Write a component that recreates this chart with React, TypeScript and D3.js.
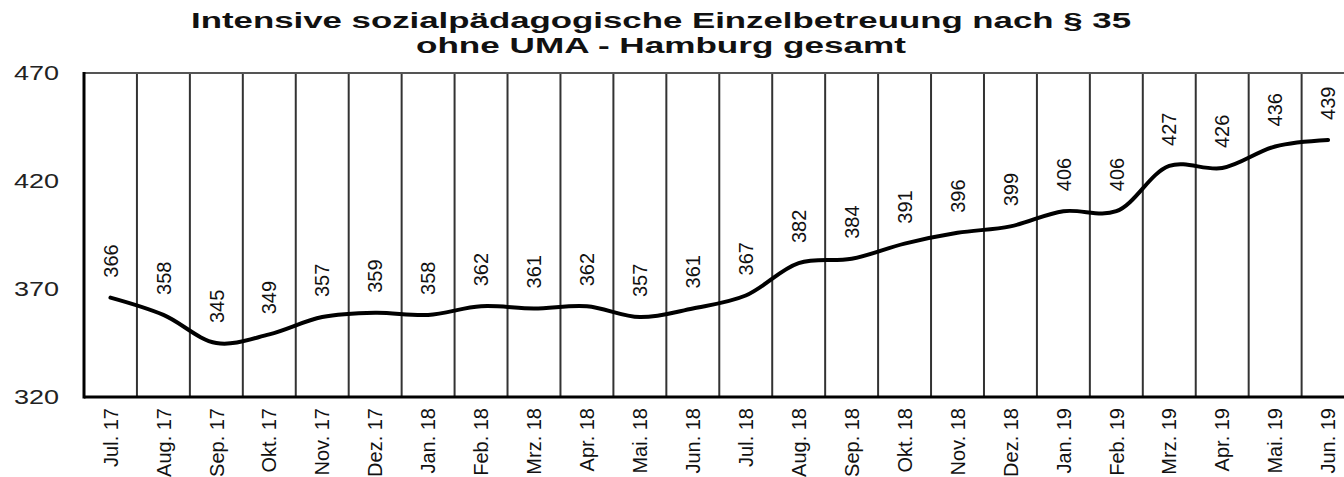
import React, { useEffect, useRef } from 'react';
import * as d3 from 'd3';

const months = [
  'Jul. 17', 'Aug. 17', 'Sep. 17', 'Okt. 17', 'Nov. 17', 'Dez. 17',
  'Jan. 18', 'Feb. 18', 'Mrz. 18', 'Apr. 18', 'Mai. 18', 'Jun. 18',
  'Jul. 18', 'Aug. 18', 'Sep. 18', 'Okt. 18', 'Nov. 18', 'Dez. 18',
  'Jan. 19', 'Feb. 19', 'Mrz. 19', 'Apr. 19', 'Mai. 19', 'Jun. 19',
];
const values = [
  366, 358, 345, 349, 357, 359, 358, 362, 361, 362, 357, 361,
  367, 382, 384, 391, 396, 399, 406, 406, 427, 426, 436, 439,
];
const yTicks = [320, 370, 420, 470];
const titleLines = [
  'Intensive sozialpädagogische Einzelbetreuung nach § 35',
  'ohne UMA - Hamburg gesamt',
];

const FONT = '"Liberation Sans", Arial, sans-serif';

const App = () => {
  const ref = useRef<SVGSVGElement>(null);

  useEffect(() => {
    const svg = d3.select(ref.current);
    svg.selectAll('*').remove();

    const width = 1344;
    const height = 477;
    const margin = { top: 73, left: 84, bottom: 397 };
    const step = 52.94;

    const x = d3.scaleBand()
      .domain(months)
      .range([margin.left, margin.left + months.length * step])
      .paddingInner(0)
      .paddingOuter(0);
    const y = d3.scaleLinear().domain([320, 470]).range([margin.bottom, margin.top]);
    const cx = (m: string) => (x(m) as number) + x.bandwidth() / 2;

    // Title
    const tl = [{ text: titleLines[0], y: 28, len: 940 }, { text: titleLines[1], y: 53, len: 490 }];
    svg.selectAll('.title')
      .data(tl)
      .enter()
      .append('text')
      .attr('x', 661)
      .attr('y', d => d.y)
      .attr('text-anchor', 'middle')
      .attr('font-family', FONT)
      .attr('font-weight', 'bold')
      .attr('font-size', 22)
      .attr('fill', '#111')
      .attr('textLength', d => d.len)
      .attr('lengthAdjust', 'spacingAndGlyphs')
      .text(d => d.text);

    // Vertical gridlines at category boundaries
    const bounds = months.map(m => x(m) as number).slice(1).concat([x.range()[1]]);
    svg.selectAll('.grid')
      .data(bounds)
      .enter()
      .append('line')
      .attr('x1', d => d)
      .attr('x2', d => d)
      .attr('y1', margin.top)
      .attr('y2', margin.bottom)
      .attr('stroke', '#333')
      .attr('stroke-width', 2);

    // Top border
    svg.append('line')
      .attr('x1', margin.left)
      .attr('x2', x.range()[1])
      .attr('y1', margin.top)
      .attr('y2', margin.top)
      .attr('stroke', '#555')
      .attr('stroke-width', 2);

    // Axes
    svg.append('line')
      .attr('x1', margin.left)
      .attr('x2', margin.left)
      .attr('y1', margin.top - 1)
      .attr('y2', margin.bottom + 1.5)
      .attr('stroke', '#000')
      .attr('stroke-width', 3);
    svg.append('line')
      .attr('x1', margin.left)
      .attr('x2', x.range()[1])
      .attr('y1', margin.bottom)
      .attr('y2', margin.bottom)
      .attr('stroke', '#000')
      .attr('stroke-width', 3);

    // Y tick labels
    svg.selectAll('.ytick')
      .data(yTicks)
      .enter()
      .append('text')
      .attr('x', 59)
      .attr('y', d => y(d) + 7)
      .attr('text-anchor', 'end')
      .attr('font-family', FONT)
      .attr('font-size', 20)
      .attr('fill', '#222')
      .attr('textLength', 45)
      .attr('lengthAdjust', 'spacingAndGlyphs')
      .text(d => d);

    // X labels
    svg.selectAll('.xlab')
      .data(months)
      .enter()
      .append('text')
      .attr('transform', d => `translate(${cx(d)},408) rotate(-90)`)
      .attr('dy', '0.36em')
      .attr('text-anchor', 'end')
      .attr('font-family', FONT)
      .attr('font-size', 20)
      .attr('fill', '#111')
      .text(d => d);

    // Smoothed line
    const pts = months.map((m, i) => [cx(m), y(values[i])] as [number, number]);
    svg.append('path')
      .attr('d', d3.line().curve(d3.curveCatmullRom.alpha(0.5))(pts))
      .attr('fill', 'none')
      .attr('stroke', '#000')
      .attr('stroke-width', 4)
      .attr('stroke-linecap', 'round');

    // Value labels
    svg.selectAll('.vlab')
      .data(values)
      .enter()
      .append('text')
      .attr('transform', (d, i) => `translate(${cx(months[i])},${y(d) - 20}) rotate(-90)`)
      .attr('dy', '0.36em')
      .attr('text-anchor', 'start')
      .attr('font-family', FONT)
      .attr('font-size', 20)
      .attr('fill', '#111')
      .text(d => d);

    svg.attr('width', width).attr('height', height);
  }, []);

  return (
    <svg
      ref={ref}
      width={1344}
      height={477}
      style={{ position: 'absolute', left: 0, top: 0, background: '#fff' }}
    />
  );
};

export default App;
